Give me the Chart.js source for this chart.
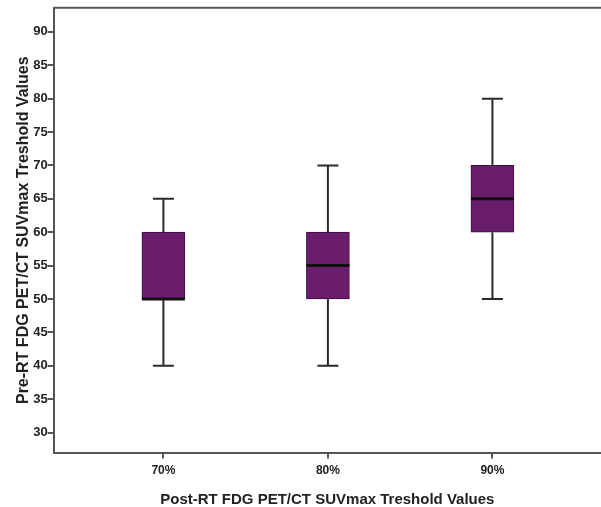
<!DOCTYPE html>
<html>
<head>
<meta charset="utf-8">
<script src="https://cdn.jsdelivr.net/npm/chart.js@4/dist/chart.umd.min.js"></script>
<style>
  html, body { margin: 0; padding: 0; background: #fff; overflow: hidden; }
</style>
</head>
<body>
<canvas id="boxChart" width="601" height="507"></canvas>
<script>
// categories and box plot stats
let categories = ['70%', '80%', '90%'],
    whiskerLow = [40, 40, 50],
    boxLow = [50, 50, 60],
    medians = [50, 55, 65],
    boxHigh = [60, 60, 70],
    whiskerHigh = [65, 70, 80],
    yTicks = [30, 35, 40, 45, 50, 55, 60, 65, 70, 75, 80, 85, 90]

let boxColor = '#6a1d6c',
    axisColor = '#555555',
    textColor = '#222222'

// whiskers, caps, medians and the top frame line
const boxExtras = {
    id: 'boxExtras',
    afterDatasetsDraw(chart) {
        const ctx = chart.ctx, xs = chart.scales.x, ys = chart.scales.y;
        const area = chart.chartArea;
        ctx.save();
        for (let i = 0; i < categories.length; i++) {
            let cx = xs.getPixelForValue(i + 1);
            let half = 21.5, cap = 10.5;
            // whiskers
            ctx.strokeStyle = '#2b2b2b';
            ctx.lineWidth = 2;
            ctx.beginPath();
            ctx.moveTo(cx, ys.getPixelForValue(boxHigh[i]));
            ctx.lineTo(cx, ys.getPixelForValue(whiskerHigh[i]));
            ctx.moveTo(cx, ys.getPixelForValue(boxLow[i]));
            ctx.lineTo(cx, ys.getPixelForValue(whiskerLow[i]));
            ctx.moveTo(cx - cap, ys.getPixelForValue(whiskerHigh[i]));
            ctx.lineTo(cx + cap, ys.getPixelForValue(whiskerHigh[i]));
            ctx.moveTo(cx - cap, ys.getPixelForValue(whiskerLow[i]));
            ctx.lineTo(cx + cap, ys.getPixelForValue(whiskerLow[i]));
            ctx.stroke();
            // median
            ctx.strokeStyle = '#111111';
            ctx.lineWidth = 3;
            ctx.beginPath();
            ctx.moveTo(cx - half, ys.getPixelForValue(medians[i]));
            ctx.lineTo(cx + half, ys.getPixelForValue(medians[i]));
            ctx.stroke();
        }
        // top frame
        ctx.strokeStyle = axisColor;
        ctx.lineWidth = 2;
        ctx.beginPath();
        ctx.moveTo(area.left, area.top);
        ctx.lineTo(area.right + 2, area.top);
        ctx.stroke();
        ctx.restore();
    }
};

let boxData = [];
for (let i = 0; i < categories.length; i++) {
    boxData.push({ x: i + 1, y: [boxLow[i], boxHigh[i]] });
}

new Chart(document.getElementById('boxChart'), {
    type: 'bar',
    data: {
        datasets: [{
            data: boxData,
            backgroundColor: boxColor,
            borderColor: '#3a0c3c',
            borderWidth: 1,
            borderSkipped: false,
            barThickness: 43
        }]
    },
    plugins: [boxExtras],
    options: {
        responsive: false,
        animation: false,
        devicePixelRatio: 1,
        layout: { padding: { top: 0, right: 0, bottom: 0, left: 14 } },
        plugins: {
            legend: { display: false },
            tooltip: { enabled: false }
        },
        scales: {
            x: {
                type: 'linear',
                offset: false,
                min: 0.333,
                max: 3.66,
                afterBuildTicks(axis) {
                    axis.ticks = categories.map((c, i) => ({ value: i + 1 }));
                },
                ticks: {
                    callback: (v) => categories[Math.round(v) - 1] || '',
                    color: textColor,
                    font: { family: 'Liberation Sans', size: 12, weight: 'bold' },
                    padding: 5,
                    maxRotation: 0,
                    autoSkip: false
                },
                grid: { offset: false, drawOnChartArea: false, drawTicks: true, tickLength: 6, color: axisColor, lineWidth: 2 },
                border: { display: true, color: axisColor, width: 2 },
                title: {
                    display: true,
                    text: 'Post-RT FDG PET/CT SUVmax Treshold Values',
                    color: textColor,
                    font: { family: 'Liberation Sans', size: 15, weight: 'bold', lineHeight: 1 },
                    padding: { top: 9, bottom: 0 }
                }
            },
            y: {
                min: 27,
                max: 93.6,
                afterBuildTicks(axis) {
                    axis.ticks = yTicks.map(v => ({ value: v }));
                },
                ticks: {
                    color: textColor,
                    font: { family: 'Liberation Sans', size: 13, weight: 'bold' },
                    padding: 0,
                    autoSkip: false
                },
                grid: { drawOnChartArea: false, drawTicks: true, tickLength: 6, color: axisColor, lineWidth: 2 },
                border: { display: true, color: axisColor, width: 2 },
                title: {
                    display: true,
                    text: 'Pre-RT FDG PET/CT SUVmax Treshold Values',
                    color: textColor,
                    font: { family: 'Liberation Sans', size: 16, weight: 'bold' },
                    padding: { top: 0, bottom: 0 }
                }
            }
        }
    }
});
</script>
</body>
</html>
